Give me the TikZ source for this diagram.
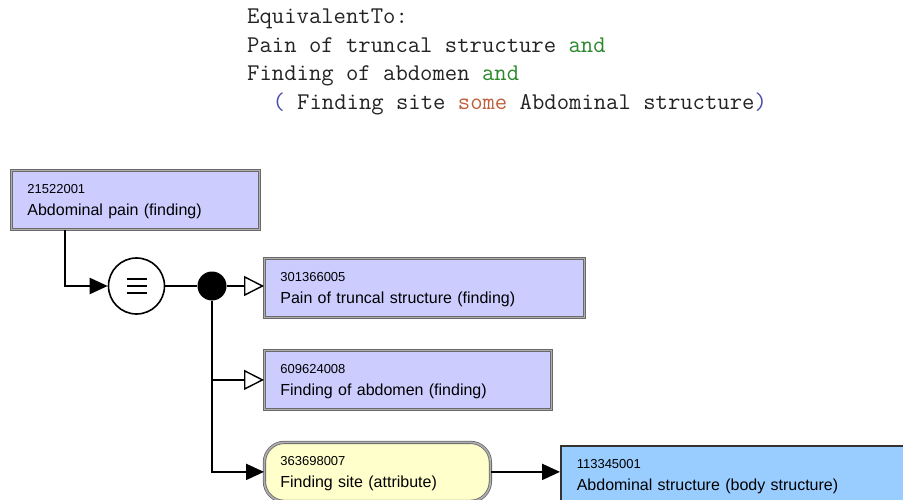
\documentclass[tikz,border=0pt]{standalone}
\usepackage{fontspec}
\setmainfont{Liberation Sans}
\usepackage{tikz}
\usetikzlibrary{calc,arrows.meta}
\usepackage{xcolor}
\definecolor{finding}{RGB}{204,204,255}
\definecolor{attrib}{RGB}{255,255,204}
\definecolor{bodyst}{RGB}{153,204,255}
\definecolor{rim}{RGB}{105,105,105}
\definecolor{rimin}{RGB}{175,175,175}
\definecolor{codetext}{RGB}{35,35,35}
\definecolor{kwand}{RGB}{45,135,45}
\definecolor{kwsome}{RGB}{190,95,60}
\definecolor{paren}{RGB}{75,75,175}
\newcommand{\sctid}[1]{{\fontsize{13}{13}\selectfont\rule{0pt}{13pt}#1}}
\tikzset{
  sct/.style={anchor=north west,minimum height=59pt,inner xsep=16pt,inner ysep=0pt,
    align=left,text width=#1,font=\fontsize{16}{22}\selectfont},
  sctprim/.style={sct=#1,fill=finding,draw=rim,double=rimin,double distance=1.6pt,line width=0.8pt},
  sctattr/.style={sct=#1,fill=attrib,draw=rim,double=rimin,double distance=1.6pt,line width=0.8pt,
    rounded corners=20pt},
  sctbody/.style={sct=#1,fill=bodyst,draw=black!80,line width=1.6pt},
  code/.style={anchor=base west,inner sep=0pt,text=codetext,font=\ttfamily\fontsize{24}{28}\selectfont},
  conn/.style={line width=2.2pt},
  isa/.style={-{Triangle[length=20pt,width=20pt,fill=white,line width=1.4pt]}},
  rel/.style={-{Triangle[length=18pt,width=16pt]}},
  eqv/.style={circle,draw,line width=1.6pt,minimum size=56pt,inner sep=0pt,
    path picture={\foreach \dy in {-7,0,7}
      \draw[line width=2.4pt] ([xshift=-10pt,yshift=\dy pt]path picture bounding box.center) -- ++(20pt,0pt);}},
  joint/.style={circle,fill=black,minimum size=29pt,inner sep=0pt},
}

\begin{document}
\begin{tikzpicture}[x=1pt,y=-1pt]
  \path[use as bounding box,clip] (0,0) rectangle (903,500);
  \node[code] (hdr) at (247,24) {EquivalentTo:};
  \node[code] (conj1) at (247,52.5) {Pain of truncal structure \textcolor{kwand}{and}};
  \node[code] (conj2) at (247,81) {Finding of abdomen \textcolor{kwand}{and}};
  \node[code] (restr) at (272.3,109.5) {\textcolor{paren}{(} Finding site \textcolor{kwsome}{some} Abdominal structure\textcolor{paren}{)}};

  \node[sctprim=216pt] (abdpain) at (11,170) {\sctid{21522001}\\Abdominal pain (finding)};
  \node[eqv] (equiv) at (136.5,286) {};
  \node[joint] (andjoin) at (212,286) {};
  \node[sctprim=288pt] (truncal) at (264,258) {\sctid{301366005}\\Pain of truncal structure (finding)};
  \node[sctprim=255pt] (abdomen) at (264,350) {\sctid{609624008}\\Finding of abdomen (finding)};
  \node[sctattr=194pt] (site) at (264,442) {\sctid{363698007}\\Finding site (attribute)};
  \node[sctbody=368pt,minimum height=57pt] (bodystruct) at (560,445) {\sctid{113345001}\\Abdominal structure (body structure)};

  \draw[conn,rel] ($(abdpain.south west)+(54,0)$) |- (equiv);
  \draw[conn] (equiv) -- (andjoin);
  \draw[conn,isa] (andjoin) -- (andjoin -| truncal.west);
  \draw[conn,isa] (andjoin) |- (abdomen);
  \draw[conn,rel] (andjoin) |- (site);
  \draw[conn,rel] (site) -- (site -| bodystruct.west);
\end{tikzpicture}
\end{document}
